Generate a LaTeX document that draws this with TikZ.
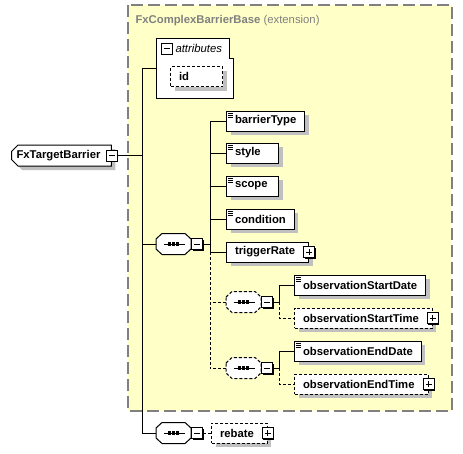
\documentclass[tikz,border=0pt]{standalone}
\usepackage{fontspec}
\setmainfont{Liberation Sans}
\usepackage{xcolor}
\usepackage{tikz}
\usetikzlibrary{calc,positioning,shadows,shapes.misc}
\definecolor{extyellow}{HTML}{FFFFC8}
\definecolor{extgray}{HTML}{808080}
\definecolor{shadowgray}{HTML}{C0C0C0}
\newcommand{\diagfont}{\fontsize{11.3}{13}\selectfont}
\newcommand{\octpath}[1]{($(#1.west)+(0,-5)$) -- ($(#1.north west)+(6,0)$) -- ($(#1.north east)+(-6,0)$)
  -- ($(#1.east)+(0,-5)$) -- ($(#1.east)+(0,5)$) -- ($(#1.south east)+(-6,0)$)
  -- ($(#1.south west)+(6,0)$) -- ($(#1.west)+(0,5)$) -- cycle}
\newcommand{\seqmark}[2][]{%
  \fill[shadowgray,shift={(4,4)}] \octpath{#2};
  \draw[fill=white,#1] \octpath{#2};
  \draw ($(#2.center)+(-10,0)$) -- ($(#2.center)+(11,0)$);
  \foreach \dx in {-3.8,0,3.8}
    \fill ($(#2.center)+(\dx-1.6,-1.6)$) rectangle ++(3.2,3.2);}
\tikzset{
  boxshadow/.style={general shadow={fill=shadowgray,shadow xshift=4pt,shadow yshift=-4pt}},
  elem/.style={draw,fill=white,font=\diagfont\bfseries,minimum height=20pt,minimum width=52pt,
    inner xsep=8.5pt,inner ysep=0pt,anchor=west,boxshadow},
  optional/.style={dash pattern=on 3pt off 2pt},
  short/.style={text width=35pt},
  haschildren/.style={execute at end node={\hspace{5pt}}},
  simple/.style={path picture={
    \foreach \k in {0,1,2}
      \draw[solid,black,line width=0.7pt] ($(path picture bounding box.north west)+(1.5,2+2*\k)$) -- ++(5,0);}},
  toggle/.style={draw,fill=white,minimum size=11pt,inner sep=0pt,
    general shadow={fill=black,shadow xshift=1pt,shadow yshift=-1pt}},
  minus/.style={toggle,path picture={
    \draw[solid,black] ($(path picture bounding box.center)+(-3,0)$) -- ++(6,0);}},
  plus/.style={toggle,path picture={
    \draw[solid,black] ($(path picture bounding box.center)+(-3,0)$) -- ++(6,0);
    \draw[solid,black] ($(path picture bounding box.center)+(0,-3)$) -- ++(0,6);}},
  sequence/.style={minimum width=34pt,minimum height=20pt,inner sep=0pt,anchor=west},
  frame/.style={extgray,line width=1.3pt,dash pattern=on 12pt off 5pt,fill=extyellow}
}

\begin{document}
\begin{tikzpicture}[x=1pt,y=-1pt,line width=1pt]
  \useasboundingbox (0,0) rectangle (463,453);
  \draw[frame] (128,5) rectangle (452,411);
  \node[anchor=base west,inner sep=0pt,text=extgray,font=\diagfont] (extTitle) at (135,23)
    {\textbf{FxComplexBarrierBase} (extension)};

  \node[chamfered rectangle,chamfered rectangle corners={north west,south west},
    chamfered rectangle xsep=3pt,draw,fill=white,font=\diagfont\bfseries,minimum height=21pt,
    inner xsep=2pt,inner ysep=0pt,anchor=west,boxshadow,execute at end node={\hspace{6pt}}]
    (root) at (11,155.5) {FxTargetBarrier};
  \node[minus] (rootTog) at (root.east) {};

  \node[anchor=north west,minimum width=77pt,minimum height=59pt,inner sep=0pt] (attrs) at (156,38) {};
  \draw[fill=white] (attrs.north west) -- ++(73,0) -- ++(0,20) -- ++(4,0) |- (attrs.south west) -- cycle;
  \node[minus,general shadow={}] (attrTog) at (166.5,48.5) {};
  \node[anchor=west,inner sep=0pt,font=\diagfont\itshape] (attrLabel) at (175,48.5) {attributes};
  \node[elem,optional,short] (id) at (170,76.5) {id};

  \node[sequence] (mainSeq) at (156,244) {};
  \seqmark{mainSeq}
  \node[minus,right=0pt of mainSeq] (mainTog) {};
  \node[elem,simple] (barrierType) at (226,121) {barrierType};
  \node[elem,simple,short] (style) at (226,153) {style};
  \node[elem,simple,short] (scope) at (226,186) {scope};
  \node[elem,simple] (condition) at (226,219) {condition};
  \node[elem,haschildren] (triggerRate) at (226,252) {triggerRate};
  \node[plus] (triggerTog) at (triggerRate.east) {};

  \node[sequence] (startSeq) at (226,302) {};
  \seqmark[optional]{startSeq}
  \node[minus,right=0pt of startSeq] (startTog) {};
  \node[elem,simple] (obsStartDate) at (294,285) {observationStartDate};
  \node[elem,optional,haschildren] (obsStartTime) at (294,318) {observationStartTime};
  \node[plus] (obsStartTimeTog) at (obsStartTime.east) {};

  \node[sequence] (endSeq) at (226,368) {};
  \seqmark[optional]{endSeq}
  \node[minus,right=0pt of endSeq] (endTog) {};
  \node[elem,simple] (obsEndDate) at (294,351) {observationEndDate};
  \node[elem,optional,haschildren] (obsEndTime) at (294,384) {observationEndTime};
  \node[plus] (obsEndTimeTog) at (obsEndTime.east) {};

  \node[sequence] (rebateSeq) at (156,433) {};
  \seqmark{rebateSeq}
  \node[minus,right=0pt of rebateSeq] (rebateTog) {};
  \node[elem,optional,haschildren] (rebate) at (211,433) {rebate};
  \node[plus] (rebateTog2) at (rebate.east) {};

  \coordinate (trunk) at (142,0);
  \coordinate (branch) at (210,0);
  \coordinate (startFork) at (279,0);
  \coordinate (endFork) at (279,0);

  \draw (rootTog.east) -- (rootTog.east -| trunk);
  \draw (attrs.west) -- (attrs.west -| trunk) -- (rebateSeq.west -| trunk) -- (rebateSeq.west);
  \draw (mainSeq.west) -- (mainSeq.west -| trunk);
  \draw (mainTog.east) -- (mainTog.east -| branch);
  \draw (barrierType.west -| branch) -- (triggerRate.west -| branch);
  \draw[optional] (triggerRate.west -| branch) -- (endSeq.west -| branch);
  \foreach \n in {barrierType,style,scope,condition,triggerRate}
    \draw (\n.west) -- (\n.west -| branch);
  \draw[optional] (startSeq.west) -- (startSeq.west -| branch);
  \draw[optional] (endSeq.west) -- (endSeq.west -| branch);

  \draw (startTog.east) -- (startTog.east -| startFork);
  \draw (obsStartDate.west) -- (obsStartDate.west -| startFork) -- (startTog.east -| startFork);
  \draw[optional] (startTog.east -| startFork) -- (obsStartTime.west -| startFork) -- (obsStartTime.west);
  \draw (endTog.east) -- (endTog.east -| endFork);
  \draw (obsEndDate.west) -- (obsEndDate.west -| endFork) -- (endTog.east -| endFork);
  \draw[optional] (endTog.east -| endFork) -- (obsEndTime.west -| endFork) -- (obsEndTime.west);
  \draw[optional] (rebateTog.east) -- (rebate.west);
\end{tikzpicture}
\end{document}
